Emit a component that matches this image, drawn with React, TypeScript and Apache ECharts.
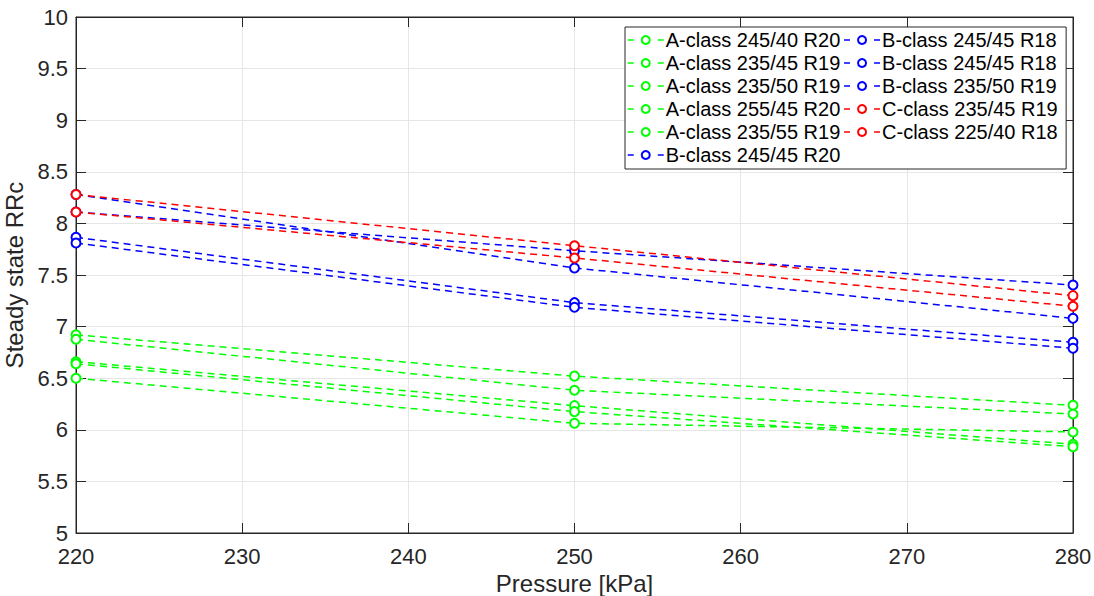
import React, { useEffect, useRef } from "react";
import * as echarts from "echarts";

const pressures = [220, 250, 280];
const seriesNames = [
  "A-class 245/40 R20",
  "A-class 235/45 R19",
  "A-class 235/50 R19",
  "A-class 255/45 R20",
  "A-class 235/55 R19",
  "B-class 245/45 R20",
  "B-class 245/45 R18",
  "B-class 245/45 R18 ",
  "B-class 235/50 R19",
  "C-class 235/45 R19",
  "C-class 225/40 R18",
];
const a1 = [6.92, 6.52, 6.237];
const a2 = [6.877, 6.383, 6.153];
const a3 = [6.66, 6.234, 5.86];
const a4 = [6.64, 6.176, 5.836];
const a5 = [6.5, 6.063, 5.979];
const b1 = [8.28, 7.568, 7.08];
const b2 = [8.11, 7.735, 7.403];
const b3 = [7.865, 7.232, 6.848];
const b4 = [7.81, 7.187, 6.79];
const c1 = [8.28, 7.784, 7.3];
const c2 = [8.11, 7.665, 7.197];
const seriesValues = [a1, a2, a3, a4, a5, b1, b2, b3, b4, c1, c2];
const seriesColors = [
  "#00ff00", "#00ff00", "#00ff00", "#00ff00", "#00ff00",
  "#0000ff", "#0000ff", "#0000ff", "#0000ff",
  "#ff0000", "#ff0000",
];
const xTicks = { min: 220, max: 280, interval: 10 };
const yTicks = { min: 5, max: 10, interval: 0.5 };

const FONT = "Liberation Sans, Arial, Helvetica, sans-serif";
const AX = "#262626";

export default function App() {
  const ref = useRef<HTMLDivElement>(null);
  useEffect(() => {
    if (!ref.current) return;
    const chart = echarts.init(ref.current, undefined, { renderer: "svg" });
    const axisCommon = {
      axisLine: { show: true, lineStyle: { color: AX, width: 1 } },
      axisTick: { show: true, inside: true, length: 10, lineStyle: { color: AX } },
    };
    chart.setOption({
      animation: false,
      textStyle: { fontFamily: FONT },
      grid: {
        left: 76, top: 17, right: 21, bottom: 63,
        containLabel: false,
        outerBoundsMode: "none",
        show: true, borderColor: AX, borderWidth: 1, backgroundColor: "#fff",
      },
      legend: {
        orient: "vertical",
        left: 625,
        top: 27,
        height: 140,
        padding: [3, 4, 4, 2],
        itemGap: 3,
        itemWidth: 36,
        itemHeight: 10,
        backgroundColor: "#fff",
        borderColor: AX,
        borderWidth: 1,
        borderRadius: 0,
        lineStyle: { type: [6, 24], width: 1.5 },
        textStyle: { fontSize: 20, color: "#000", fontFamily: FONT, padding: [0, 0, 0, -3] },
        data: seriesNames,
      },
      xAxis: [
        {
          type: "value",
          ...xTicks,
          name: "Pressure [kPa]",
          nameLocation: "middle",
          nameGap: 34,
          nameTextStyle: { fontSize: 24, color: AX, fontFamily: FONT, verticalAlign: "top" },
          axisLabel: { fontSize: 22, color: AX, margin: 12, fontFamily: FONT, hideOverlap: false },
          splitLine: { show: true, lineStyle: { color: "#e6e6e6", width: 1 } },
          ...axisCommon,
        },
        {
          type: "value",
          position: "top",
          ...xTicks,
          axisLabel: { show: false },
          splitLine: { show: false },
          ...axisCommon,
        },
      ],
      yAxis: [
        {
          type: "value",
          ...yTicks,
          name: "Steady state RRc",
          nameLocation: "middle",
          nameGap: 40,
          nameTextStyle: { fontSize: 24, color: AX, fontFamily: FONT },
          axisLabel: { fontSize: 22, color: AX, margin: 8, fontFamily: FONT, hideOverlap: false },
          splitLine: { show: true, lineStyle: { color: "#e6e6e6", width: 1 } },
          ...axisCommon,
        },
        {
          type: "value",
          position: "right",
          ...yTicks,
          axisLabel: { show: false },
          splitLine: { show: false },
          ...axisCommon,
        },
      ],
      series: seriesNames.map((name, i) => ({
        name,
        type: "line",
        xAxisIndex: 0,
        yAxisIndex: 0,
        data: pressures.map((p, j) => [p, seriesValues[i][j]]),
        symbol: "emptyCircle",
        symbolSize: 9,
        showSymbol: true,
        color: seriesColors[i],
        itemStyle: { color: seriesColors[i], borderColor: seriesColors[i], borderWidth: 1.5 },
        lineStyle: { color: seriesColors[i], width: 1.5, type: [7, 5] },
        clip: false,
      })),
    });
    return () => chart.dispose();
  }, []);
  return <div ref={ref} style={{ width: 1094, height: 596, position: "absolute", left: 0, top: 0 }} />;
}
